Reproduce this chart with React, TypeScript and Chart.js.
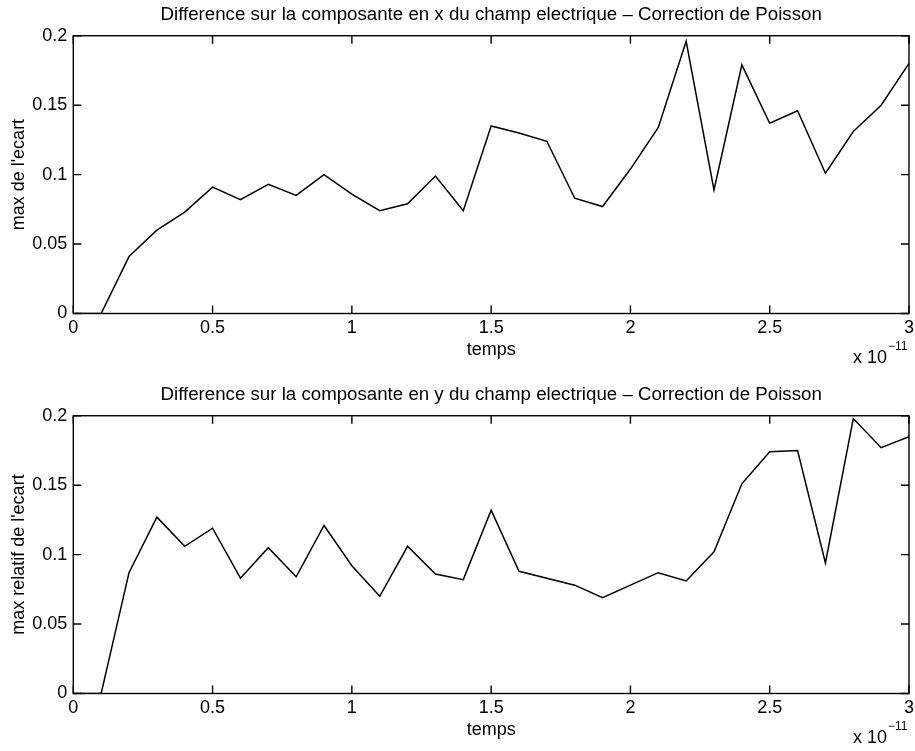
import { useEffect, useRef } from "react";
import { Chart, registerables } from "chart.js";

Chart.register(...registerables);

// time samples (units of 1e-11 s)
const times = [
  0, 0.1, 0.2, 0.3, 0.4, 0.5, 0.6, 0.7, 0.8, 0.9, 1.0,
  1.1, 1.2, 1.3, 1.4, 1.5, 1.6, 1.7, 1.8, 1.9, 2.0,
  2.1, 2.2, 2.3, 2.4, 2.5, 2.6, 2.7, 2.8, 2.9, 3.0,
];

// max deviation on the x component of the electric field
const ecartEx = [
  0, 0, 0.041, 0.06, 0.073, 0.091, 0.082, 0.093, 0.085, 0.1, 0.086,
  0.074, 0.079, 0.099, 0.074, 0.135, 0.13, 0.124, 0.083, 0.077, 0.104,
  0.134, 0.196, 0.089, 0.179, 0.137, 0.146, 0.101, 0.131, 0.15, 0.18,
];

// max relative deviation on the y component of the electric field
const ecartEy = [
  0, 0, 0.087, 0.127, 0.106, 0.119, 0.083, 0.105, 0.084, 0.121, 0.092,
  0.07, 0.106, 0.086, 0.082, 0.132, 0.088, 0.083, 0.078, 0.069, 0.078,
  0.087, 0.081, 0.102, 0.151, 0.174, 0.175, 0.094, 0.198, 0.177, 0.185,
];

const xTicks = [0, 0.5, 1, 1.5, 2, 2.5, 3];
const yTicks = [0, 0.05, 0.1, 0.15, 0.2];

const titleEx =
  "Difference sur la composante en x du champ electrique – Correction de Poisson";
const titleEy =
  "Difference sur la composante en y du champ electrique – Correction de Poisson";
const yLabelEx = "max de l'ecart";
const yLabelEy = "max relatif de l'ecart";
const xLabel = "temps";
const xMultiplier = "x 10";
const xExponent = "−11";

const FONT = "'Liberation Sans', Arial, Helvetica, sans-serif";
const INK = "#000";

const CANVAS_W = 915;
const CANVAS_H = 371;

// MATLAB-style boxed axes with inward ticks plus the "x 10^-11" multiplier
const axesBox = {
  id: "axesBox",
  afterDatasetsDraw(chart: any) {
    const { ctx, chartArea: a, scales } = chart;
    ctx.save();
    ctx.strokeStyle = INK;
    ctx.lineWidth = 1.4;
    ctx.strokeRect(a.left, a.top, a.right - a.left, a.bottom - a.top);
    const L = 8;
    ctx.beginPath();
    for (const v of xTicks) {
      const px = scales.x.getPixelForValue(v);
      ctx.moveTo(px, a.bottom);
      ctx.lineTo(px, a.bottom - L);
      ctx.moveTo(px, a.top);
      ctx.lineTo(px, a.top + L);
    }
    for (const v of yTicks) {
      const py = scales.y.getPixelForValue(v);
      ctx.moveTo(a.left, py);
      ctx.lineTo(a.left + L, py);
      ctx.moveTo(a.right, py);
      ctx.lineTo(a.right - L, py);
    }
    ctx.stroke();

    ctx.fillStyle = INK;
    ctx.textAlign = "left";
    ctx.textBaseline = "alphabetic";
    const base = a.bottom + 49;
    const x0 = a.right - 56;
    ctx.font = `18px ${FONT}`;
    ctx.fillText(xMultiplier, x0, base);
    const w = ctx.measureText(xMultiplier).width;
    ctx.font = `12px ${FONT}`;
    ctx.fillText(xExponent, x0 + w + 1, base - 13);
    ctx.restore();
  },
};

function Panel(props: { title: string; yLabel: string; values: number[]; top: number }) {
  const ref = useRef<HTMLCanvasElement>(null);

  useEffect(() => {
    if (!ref.current) return;
    const points = times.map((t, i) => ({ x: t, y: props.values[i] }));
    const chart = new Chart(ref.current, {
      type: "line",
      data: {
        datasets: [
          {
            data: points,
            borderColor: INK,
            borderWidth: 1.5,
            pointRadius: 0,
            tension: 0,
            fill: false,
          },
        ],
      },
      options: {
        animation: false,
        responsive: false,
        devicePixelRatio: 1,
        layout: { padding: { left: 0, right: 0, top: 0, bottom: 0 } },
        plugins: {
          legend: { display: false },
          tooltip: { enabled: false },
          title: {
            display: true,
            text: props.title,
            fullSize: false,
            color: INK,
            font: { family: FONT, size: 18.7, weight: "normal", lineHeight: 1.2 },
            padding: { top: 3.5, bottom: 9.8 },
          },
        },
        scales: {
          x: {
            type: "linear",
            min: 0,
            max: 3,
            afterFit: (s: any) => {
              s.height = CANVAS_H - 313.5;
              s.paddingLeft = 0;
              s.paddingRight = 6;
            },
            afterBuildTicks: (s: any) => {
              s.ticks = xTicks.map((v) => ({ value: v }));
            },
            ticks: {
              color: INK,
              padding: 4,
              maxRotation: 0,
              autoSkip: false,
              font: { family: FONT, size: 18 },
              callback: (v: any) => String(Number(Number(v).toFixed(2))),
            },
            grid: { display: false, drawTicks: false },
            border: { display: false },
            title: {
              display: true,
              text: xLabel,
              color: INK,
              font: { family: FONT, size: 18, lineHeight: 1.2 },
              padding: { top: 0, bottom: 10 },
            },
          },
          y: {
            type: "linear",
            min: 0,
            max: 0.2,
            afterFit: (s: any) => {
              s.width = 73.3;
            },
            afterBuildTicks: (s: any) => {
              s.ticks = yTicks.map((v) => ({ value: v }));
            },
            ticks: {
              color: INK,
              padding: 6,
              autoSkip: false,
              font: { family: FONT, size: 18 },
              callback: (v: any) => String(Number(Number(v).toFixed(2))),
            },
            grid: { display: false, drawTicks: false },
            border: { display: false },
            title: {
              display: true,
              text: props.yLabel,
              color: INK,
              font: { family: FONT, size: 18, lineHeight: 1.2 },
              padding: { top: 8, bottom: 0 },
            },
          },
        },
      },
      plugins: [axesBox],
    });
    return () => chart.destroy();
  }, [props.title, props.yLabel, props.values]);

  return (
    <canvas
      ref={ref}
      width={CANVAS_W}
      height={CANVAS_H}
      style={{
        position: "absolute",
        left: 0,
        top: props.top,
        width: CANVAS_W,
        height: CANVAS_H,
      }}
    />
  );
}

export default function App() {
  return (
    <div
      style={{
        position: "absolute",
        left: 0,
        top: 0,
        width: CANVAS_W,
        height: 751,
        background: "#fff",
      }}
    >
      <Panel title={titleEx} yLabel={yLabelEx} values={ecartEx} top={0} />
      <Panel title={titleEy} yLabel={yLabelEy} values={ecartEy} top={380} />
    </div>
  );
}
